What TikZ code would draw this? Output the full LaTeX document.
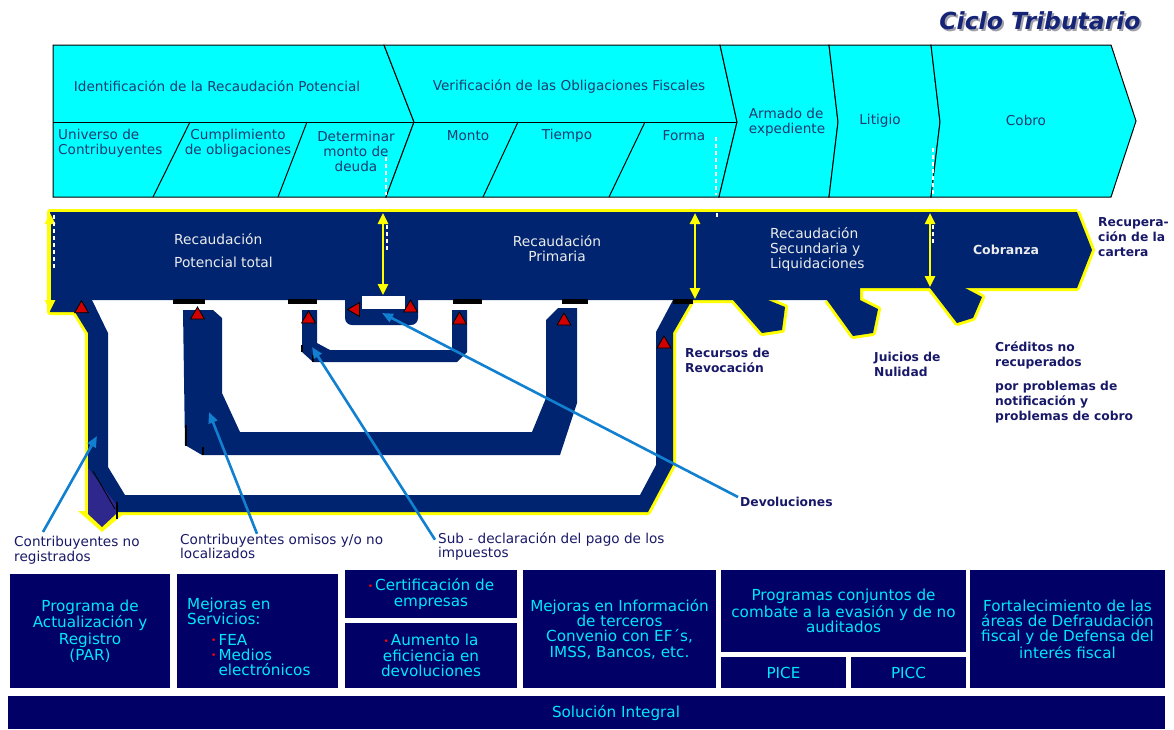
\documentclass[tikz,border=0pt]{standalone}
\usepackage{fontspec}
\setmainfont{DejaVu Sans}
\usetikzlibrary{arrows.meta,shapes.geometric,calc}

\definecolor{hdrcyan}{RGB}{0,255,255}
\definecolor{hdrtext}{RGB}{28,58,112}
\definecolor{bandnavy}{RGB}{0,36,112}
\definecolor{boxnavy}{RGB}{0,0,102}
\definecolor{boxcyan}{RGB}{0,232,248}
\definecolor{lblnavy}{RGB}{24,24,104}
\definecolor{callblue}{RGB}{18,128,208}
\definecolor{flowylw}{RGB}{255,255,0}
\definecolor{dropred}{RGB}{210,0,0}
\definecolor{outpurple}{RGB}{46,40,140}
\definecolor{bandtext}{RGB}{236,236,236}
\definecolor{titleblue}{RGB}{22,36,120}
\definecolor{titleshade}{RGB}{160,160,170}
\definecolor{bulred}{RGB}{255,0,0}

\newcommand{\redbul}{{\color{bulred}\fontsize{9}{9}\selectfont\raisebox{1.5pt}{•}}\hspace{2pt}}

\begin{document}
\begin{tikzpicture}[x=1pt,y=-1pt,
  hdr/.style={text=hdrtext, font=\fontsize{13.6}{15}\selectfont, inner sep=0, align=center},
  bandlbl/.style={text=bandtext, font=\fontsize{13.8}{15}\selectfont, inner sep=0},
  sidelbl/.style={text=lblnavy, font=\bfseries\fontsize{12.3}{15}\selectfont, inner sep=0, align=left, anchor=west},
  lowlbl/.style={text=lblnavy, font=\fontsize{13.6}{14.5}\selectfont, inner sep=0, align=left, anchor=west},
  calloutline/.style={draw=callblue, line width=2.6, -{Triangle[length=11pt,width=9pt]}},
  droptri/.style={regular polygon, regular polygon sides=3, minimum size=16, inner sep=0, fill=dropred, draw=black, line width=0.8},
  gauge/.style={draw=flowylw, line width=2.5, {Triangle[length=11pt,width=10pt]}-{Triangle[length=11pt,width=10pt]}},
  seam/.style={draw=white, line width=1.1, dash pattern=on 4pt off 3pt},
  rim/.style={draw=flowylw, line width=6, line join=round},
  hdrfill/.style={fill=hdrcyan, draw=black, line width=1, line join=miter},
  cell/.style={fill=boxnavy, text=boxcyan, font=\fontsize{15.2}{15.2}\selectfont, align=center, inner sep=0},
  boxtxt/.style={text=boxcyan, font=\fontsize{15.2}{15.2}\selectfont, align=center, inner sep=0}
]
\useasboundingbox (0,0) rectangle (1174,729);

% ---------- title ----------
\node[text=titleshade, font=\bfseries\itshape\fontsize{23.5}{26}\selectfont, inner sep=0] (titleshadow) at (1042,23) {Ciclo Tributario};
\node[text=titleblue, font=\bfseries\itshape\fontsize{23.5}{26}\selectfont, inner sep=0] (title) at (1040,21) {Ciclo Tributario};

% ---------- header chevrons ----------
\filldraw[hdrfill] (53,45) -- (384,45) -- (414,122) -- (386,197) -- (53,197) -- cycle;
\filldraw[hdrfill] (384,45) -- (720,45) -- (737,122) -- (719,197) -- (386,197) -- (414,122) -- cycle;
\filldraw[hdrfill] (720,45) -- (829,45) -- (838,122) -- (829,197) -- (719,197) -- (737,122) -- cycle;
\filldraw[hdrfill] (829,45) -- (931,45) -- (940,122) -- (931,197) -- (829,197) -- (838,122) -- cycle;
\filldraw[hdrfill] (931,45) -- (1111,45) -- (1136,121) -- (1111,197) -- (931,197) -- (940,122) -- cycle;
\draw[black, line width=1] (53,122) -- (737,122);
\draw[black, line width=1] (190,122) -- (153,197);
\draw[black, line width=1] (307,122) -- (278,197);
\draw[black, line width=1] (518,122) -- (483,197);
\draw[black, line width=1] (645,122) -- (609,197);
\draw[seam] (386,157) -- (386,195);
\draw[seam] (716,137) -- (716,195);
\draw[seam] (933,148) -- (933,195);

\node[hdr] (identif) at (217,86) {Identificación de la Recaudación Potencial};
\node[hdr] (verif) at (569,86) {Verificación de las Obligaciones Fiscales};
\node[hdr, align=left, anchor=west] (universo) at (58,143.5) {Universo de\\Contribuyentes};
\node[hdr] (cumpl) at (238,143.5) {Cumplimiento\\de obligaciones};
\node[hdr] (determ) at (356,151) {Determinar\\monto de\\deuda};
\node[hdr] (monto) at (468,136) {Monto};
\node[hdr] (tiempo) at (567,136) {Tiempo};
\node[hdr] (forma) at (684,136) {Forma};
\node[hdr, align=left] (armado) at (787,122) {Armado de\\expediente};
\node[hdr] (litigio) at (880,121) {Litigio};
\node[hdr] (cobro) at (1026,120) {Cobro};

% ---------- yellow rim of the collection flow ----------
\draw[rim] (1077,212) -- (50,212) -- (50,312) -- (75,312) -- (88,333) -- (88,512);
\draw[rim] (118,512) -- (648,512) -- (673,465) -- (673,333) -- (692,300) -- (733,300)
  -- (762,333) -- (782,330) -- (785,307) -- (768,300);
\draw[rim] (827,300) -- (853,336) -- (873,333) -- (878,309) -- (860,300) -- (860,288)
  -- (930,288) -- (957,323) -- (973,318) -- (982,297) -- (965,288) -- (1077,288)
  -- (1092,250) -- (1077,212);
\fill[flowylw] (78,511) -- (102,532) -- (127,511) -- cycle;

% ---------- pipes ----------
% outer loop: unregistered taxpayers
\fill[bandnavy] (75,300) -- (92,300) -- (108,333) -- (108,467) -- (125,495) -- (640,495)
  -- (656,465) -- (656,332) -- (673,300) -- (692,300) -- (673,333) -- (673,465)
  -- (648,512) -- (118,512) -- (88,470) -- (88,333) -- (75,312) -- cycle;
% middle loop: omitted / not located
\fill[bandnavy] (183,310) -- (213,310) -- (222,318) -- (222,393) -- (240,432) -- (532,432)
  -- (546,398) -- (546,320) -- (558,308) -- (577,308) -- (577,403) -- (560,455)
  -- (202,455) -- (185,445) -- cycle;
% inner loop: under-declaration
\fill[bandnavy] (302,310) -- (317,310) -- (317,343) -- (330,350) -- (452,350) -- (452,310)
  -- (467,310) -- (467,352) -- (457,362) -- (313,362) -- (302,352) -- cycle;
% small U: refunds
\fill[bandnavy, rounded corners=7] (345,285) -- (345,325) -- (418,325) -- (418,285) -- cycle;

% ---------- main band ----------
\fill[bandnavy] (50,212) -- (1077,212) -- (1092,250) -- (1077,288) -- (860,288) -- (860,300)
  -- (75,300) -- (75,312) -- (50,312) -- cycle;
\fill[white] (362,296) rectangle (405,309);

% outflow drips
\fill[bandnavy] (733,300) -- (762,333) -- (782,330) -- (785,307) -- (768,300) -- cycle;
\fill[bandnavy] (827,300) -- (853,336) -- (873,333) -- (878,309) -- (860,300) -- cycle;
\fill[bandnavy] (930,288) -- (957,323) -- (973,318) -- (982,297) -- (965,288) -- cycle;

% shading strips under the band
\fill[black] (173,299) rectangle (205,304);
\fill[black] (288,299) rectangle (317,304);
\fill[black] (453,299) rectangle (482,304);
\fill[black] (562,299) rectangle (588,304);
\fill[black] (673,299) rectangle (693,304);
\draw[black, line width=1.5] (186,425) -- (186,446);
\draw[black, line width=2.5] (203,447) -- (203,455);
\draw[black, line width=1.5] (302,345) -- (302,352);
\draw[black, line width=2.5] (313,355) -- (313,362);

% outflow arrow of unregistered taxpayers
\fill[outpurple] (88,468) -- (116,504) -- (116,514) -- (102,527) -- (88,514) -- cycle;
\draw[black, line width=0.8] (93,471) -- (115,509);
\draw[black, line width=2.5] (117,502) -- (117,519);

% ---------- leak markers ----------
\node[droptri] (leak1) at (81.5,308.7) {};
\node[droptri] (leak2) at (197.5,315) {};
\node[droptri] (leak3) at (308.5,319) {};
\node[droptri] (leak4) at (459.5,320) {};
\node[droptri] (leak5) at (410.5,308) {};
\node[droptri, shape border rotate=90] (leak6) at (355.5,309.5) {};
\node[droptri] (leak7) at (564,321) {};
\node[droptri] (leak8) at (664,344) {};

% ---------- stage spans ----------
\draw[gauge] (50,213) -- (50,311);
\draw[gauge] (383,213) -- (383,295);
\draw[gauge] (695,213) -- (695,299);
\draw[gauge] (930,213) -- (930,287);
\draw[seam] (54,215) -- (54,270);
\draw[seam] (387,225) -- (387,250);
\draw[seam] (717,213) -- (717,219);
\draw[seam] (933,225) -- (933,243);

% ---------- band labels ----------
\node[bandlbl, align=left, anchor=west, font=\fontsize{13.8}{23}\selectfont] (potencial) at (174,250.5) {Recaudación\\Potencial total};
\node[bandlbl, align=center] (primaria) at (557,249) {Recaudación\\Primaria};
\node[bandlbl, align=left, anchor=west] (secundaria) at (770,249) {Recaudación\\Secundaria y\\Liquidaciones};
\node[bandlbl, font=\bfseries\fontsize{12.5}{15}\selectfont] (cobranza) at (1006,250) {Cobranza};

% ---------- side labels ----------
\node[sidelbl] (recup) at (1098,237) {Recupera-\\ción de la\\cartera};
\node[sidelbl] (revoc) at (685,360) {Recursos de\\Revocación};
\node[sidelbl] (nulidad) at (874,364.5) {Juicios de\\Nulidad};
\node[sidelbl] (creditos) at (995,355.5) {Créditos no\\recuperados};
\node[sidelbl] (problemas) at (995,402) {por problemas de\\notificación y\\problemas de cobro};
\node[sidelbl] (devol) at (740,502) {Devoluciones};

\node[lowlbl] (noreg) at (14,550) {Contribuyentes no\\registrados};
\node[lowlbl] (omisos) at (180,546.5) {Contribuyentes omisos y/o no\\localizados};
\node[lowlbl] (subdecl) at (438,546.5) {Sub - declaración del pago de los\\impuestos};

% ---------- callouts ----------
\coordinate (noregtip) at (97,436);
\coordinate (omisostip) at (209,412);
\coordinate (subdecltip) at (312,347);
\coordinate (devoltip) at (382,313);
\draw[calloutline] ($(noreg.north west)+(29,-4)$) -- (noregtip);
\draw[calloutline] ($(omisos.north west)+(77,0)$) -- (omisostip);
\draw[calloutline] ($(subdecl.north west)+(-3,7.5)$) -- (subdecltip);
\draw[calloutline] ($(devol.west)+(-2,-5)$) -- (devoltip);

% ---------- programme boxes ----------
\node[cell, minimum width=160, minimum height=114, font=\fontsize{15.2}{16.5}\selectfont] (par) at (90,631) {Programa de\\Actualización y\\Registro\\(PAR)};
\node[cell, minimum width=161, minimum height=114] (servicios) at (257.5,631) {};
\node[boxtxt, align=left, anchor=west] (servtitle) at (187,611.5) {Mejoras en\\Servicios:};
\node[boxtxt, align=left, anchor=west] (servlist) at (211,655) {\redbul FEA\\\redbul Medios\\\phantom{\redbul}electrónicos};
\node[cell, minimum width=172, minimum height=48] (certif) at (431,594) {\redbul Certificación de\\empresas};
\node[cell, minimum width=172, minimum height=65] (aumento) at (431,655.5) {\redbul Aumento la\\eficiencia en\\devoluciones};
\node[cell, minimum width=193, minimum height=118] (terceros) at (619.5,629) {Mejoras en Información\\de terceros\\Convenio con EF´s,\\IMSS, Bancos, etc.};
\node[cell, minimum width=245, minimum height=82] (conjuntos) at (843.5,611) {Programas conjuntos de\\combate a la evasión y de no\\auditados};
\node[cell, minimum width=125, minimum height=31] (pice) at (783.5,672.5) {PICE};
\node[cell, minimum width=115, minimum height=31] (picc) at (908.5,672.5) {PICC};
\node[cell, minimum width=195, minimum height=118] (fortal) at (1067.5,629) {Fortalecimiento de las\\áreas de Defraudación\\fiscal y de Defensa del\\interés fiscal};
\node[cell, minimum width=1157, minimum height=33] (integral) at (586.5,712.5) {};
\node[boxtxt] (integraltxt) at (616,713) {Solución Integral};
\end{tikzpicture}
\end{document}
